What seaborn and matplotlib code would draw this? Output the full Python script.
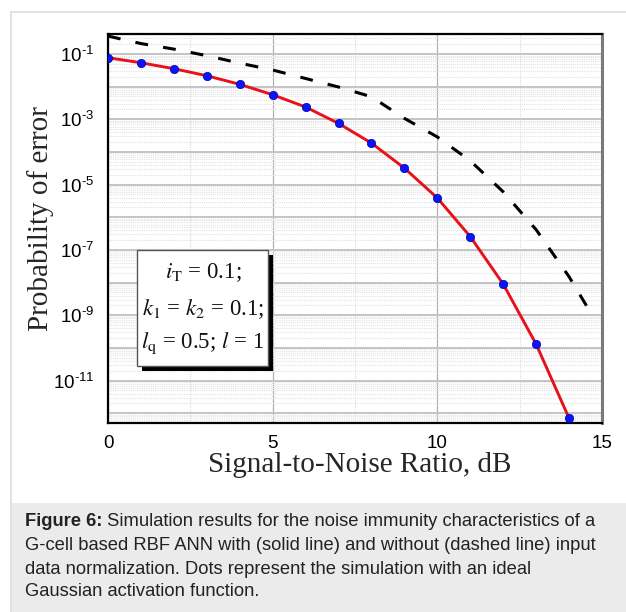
import numpy as np
import pandas as pd
import matplotlib
matplotlib.use("Agg")
import matplotlib.pyplot as plt
import seaborn as sns
from matplotlib.patches import Rectangle
from matplotlib.lines import Line2D
from matplotlib.ticker import FixedLocator, FixedFormatter, NullFormatter

# ---------------- data ----------------
snr_sim = [0, 1, 2, 3, 4, 5, 6, 7, 8, 9, 10, 11, 12, 13, 14]
pe_normalized = [0.077, 0.054, 0.0355, 0.0216, 0.0118, 0.00566, 0.00238,
                 7.5e-4, 1.87e-4, 3.2e-5, 3.9e-6, 2.56e-7, 9.0e-9, 1.3e-10, 7.0e-13]
snr_raw = [0, 1, 2, 3, 4, 5, 6, 7, 8, 9, 10, 11, 12, 13, 14, 14.72]
pe_raw_log10 = [-0.45, -0.68, -0.85, -1.05, -1.28, -1.49, -1.75, -2.01, -2.31,
                -2.97, -3.54, -4.27, -5.22, -6.38, -7.82, -9.03]
pe_raw = [10 ** v for v in pe_raw_log10]
x_ticks = [0, 5, 10, 15]
y_tick_exps = [-1, -3, -5, -7, -9, -11]

df_norm = pd.DataFrame({"snr": snr_sim, "pe": pe_normalized})
df_raw = pd.DataFrame({"snr": snr_raw, "pe": pe_raw})

W, H = 626, 612
sns.set_style("white")
plt.rcParams["font.family"] = ["Liberation Sans", "DejaVu Sans"]
plt.rcParams["mathtext.fontset"] = "custom"
plt.rcParams["mathtext.rm"] = "Liberation Sans"
plt.rcParams["mathtext.it"] = "Liberation Sans:italic"

fig = plt.figure(figsize=(W / 100, H / 100), dpi=100)
fig.patch.set_facecolor("white")

def fx(x):
    return x / W

def fy(y):
    return 1 - y / H

# card border and caption band
fig.add_artist(Rectangle((fx(11), 0), 1, fy(503), transform=fig.transFigure,
                         facecolor="#ebebeb", edgecolor="none", zorder=0))
fig.add_artist(Line2D([fx(11), 1], [fy(12), fy(12)], transform=fig.transFigure,
                      color="#dddddd", lw=1.2))
fig.add_artist(Line2D([fx(11), fx(11)], [fy(12), 0], transform=fig.transFigure,
                      color="#dddddd", lw=1.2))

ax_l, ax_r, ax_t, ax_b = 108, 602, 34, 423
ax = fig.add_axes([fx(ax_l), fy(ax_b), (ax_r - ax_l) / W, (ax_b - ax_t) / H])
ax.set_facecolor("white")

# lines and dots
sns.lineplot(data=df_raw, x="snr", y="pe", ax=ax, color="black", lw=2.2, zorder=4)
ax.lines[-1].set_dashes([4.2, 5.0])
sns.lineplot(data=df_norm, x="snr", y="pe", ax=ax, color="#e8101a", lw=2.1, zorder=5)
sns.scatterplot(data=df_norm, x="snr", y="pe", ax=ax, color="#0a14ff", s=36,
                edgecolor="#0000a0", linewidth=0.5, zorder=6)

ax.set_yscale("log")
ax.set_xlim(0, 15)
ax.set_ylim(10 ** -12.3, 10 ** -0.387)

# grid
ax.yaxis.set_major_locator(FixedLocator([10.0 ** e for e in range(-12, 0)]))
ax.yaxis.set_minor_locator(FixedLocator([m * 10.0 ** e for e in range(-13, 0) for m in range(2, 10)]))
ax.yaxis.set_minor_formatter(NullFormatter())
ax.xaxis.set_major_locator(FixedLocator(x_ticks))
ax.xaxis.set_minor_locator(FixedLocator([2.5, 7.5, 12.5]))
ax.grid(True, which="major", axis="y", color="#c4c4c4", lw=1.4, ls="-", zorder=0)
ax.grid(True, which="major", axis="x", color="#b0b0b0", lw=0.9, ls="-", zorder=0)
ax.grid(True, which="minor", axis="y", color="#e2e2e2", lw=0.8, ls=(0, (1, 1)), zorder=0)
ax.grid(True, which="minor", axis="x", color="#dcdcdc", lw=0.8, ls=(0, (1, 1)), zorder=0)
ax.set_axisbelow(True)

# tick labels
ax.xaxis.set_major_formatter(FixedFormatter([str(v) for v in x_ticks]))
labels_y = []
for e in range(-12, 0):
    labels_y.append(r"$\mathregular{10^{\text{-}%d}}$" % (-e) if e in y_tick_exps else "")
ax.yaxis.set_major_formatter(FixedFormatter(labels_y))
ax.tick_params(axis="both", which="major", direction="in", length=5, width=1.6,
               labelsize=13.5, colors="black", pad=9)
ax.tick_params(axis="y", which="minor", direction="in", length=3, width=1.0)
ax.tick_params(axis="x", which="minor", direction="in", length=2, width=1.0)
ax.tick_params(axis="y", which="major", pad=10)

for side in ["left", "top", "bottom"]:
    ax.spines[side].set_color("black")
    ax.spines[side].set_linewidth(1.6)
ax.spines["right"].set_color("#7a7a7a")
ax.spines["right"].set_linewidth(2.2)

ax.set_xlabel("")
ax.set_ylabel("")

# axis titles
fig.text(fx(360), fy(465), "Signal-to-Noise Ratio, dB", family="Liberation Serif",
         fontsize=21, ha="center", va="center")
fig.text(fx(41), fy(219), "Probability of error", family="Liberation Serif",
         fontsize=21, ha="center", va="center", rotation=90)

# parameter box with shadow
bx0, by0, bx1, by1 = 137, 250, 268, 366
fig.add_artist(Rectangle((fx(bx0 + 5), fy(by1 + 5)), (bx1 - bx0) / W, (by1 - by0) / H,
                         transform=fig.transFigure, facecolor="black", edgecolor="none", zorder=7))
fig.add_artist(Rectangle((fx(bx0), fy(by1)), (bx1 - bx0) / W, (by1 - by0) / H,
                         transform=fig.transFigure, facecolor="white", edgecolor="#555555",
                         lw=1.0, zorder=8))
box_lines = [r"$i_{\mathrm{T}}$ = 0.1;",
             r"$k_{1}$ = $k_{2}$ = 0.1;",
             r"$l_{\mathrm{q}}$ = 0.5; $l$ = 1"]
for txt, yb in zip(box_lines, [278, 315, 348]):
    fig.text(fx(203), fy(yb), txt, family="Liberation Serif", math_fontfamily="stix",
             fontsize=16.5, ha="center", va="baseline", zorder=9, color="#111111")

# caption
fig.canvas.draw()
r = fig.canvas.get_renderer()
cap_size = 13.2
t1 = fig.text(fx(25), fy(522), "Figure 6:", weight="bold", fontsize=cap_size,
              va="center", ha="left", color="#222222")
bb = t1.get_window_extent(r)
fig.text(bb.x1 / W, fy(522), " Simulation results for the noise immunity characteristics of a",
         fontsize=cap_size, va="center", ha="left", color="#222222")
cap_rest = ["G-cell based RBF ANN with (solid line) and without (dashed line) input",
            "data normalization. Dots represent the simulation with an ideal",
            "Gaussian activation function."]
for txt, yc in zip(cap_rest, [546, 569, 591]):
    fig.text(fx(25), fy(yc), txt, fontsize=cap_size, va="center", ha="left", color="#222222")

fig.savefig("out.png", dpi=100, facecolor="white")
